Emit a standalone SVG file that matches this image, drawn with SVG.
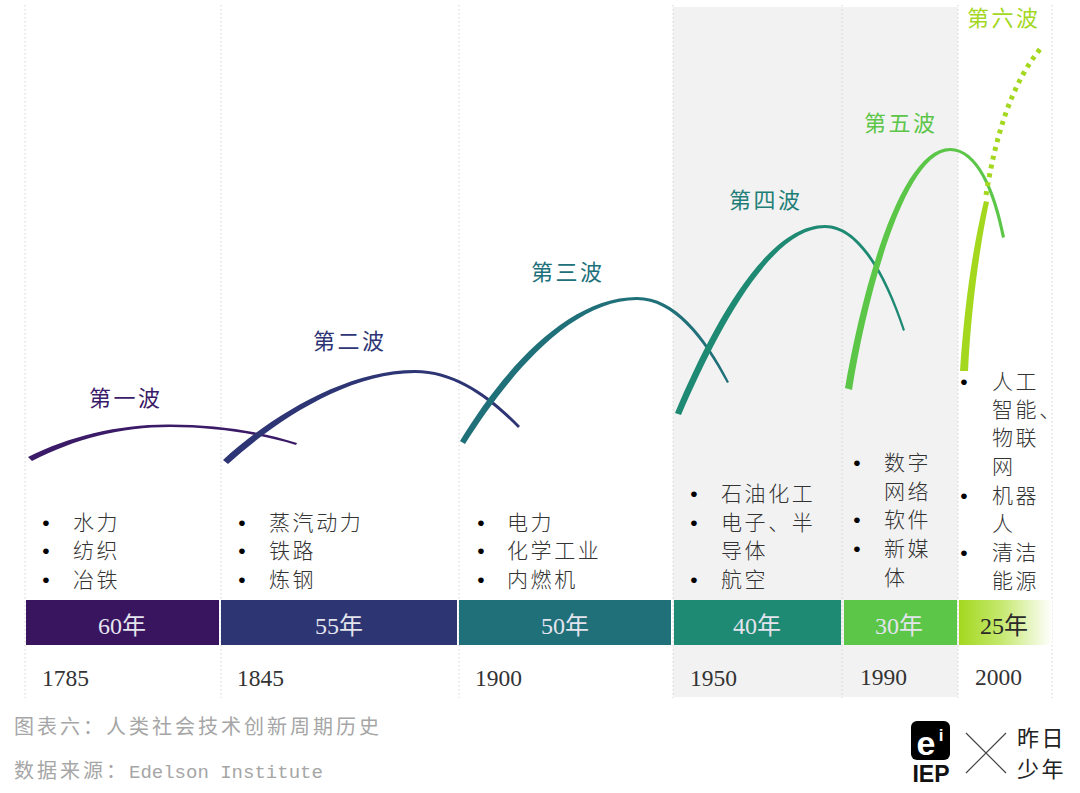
<svg xmlns="http://www.w3.org/2000/svg" width="1080" height="793" viewBox="0 0 1080 793">
<style>
text{font-family:"Liberation Serif","Noto Sans CJK SC",serif}
.g{stroke:#d4d4d4;stroke-width:1;stroke-dasharray:1.5 2.5;fill:none}
.t{font-size:21px;letter-spacing:2.6px;fill:#333;font-weight:300}
.b{font-family:"Liberation Sans",sans-serif;font-size:21px;fill:#000;text-anchor:middle}
.y{font-size:23.5px;fill:#333}
.d{font-size:24px;fill:#e4e4ee;text-anchor:middle}
.w{font-size:22px;letter-spacing:2.5px}
.c{font-size:20px;letter-spacing:3px;fill:#a6a6a6}
</style>
<defs>
<linearGradient id="g6" x1="0" x2="1" y1="0" y2="0"><stop offset="0" stop-color="#a3d81f"/><stop offset="0.45" stop-color="#c5e86e"/><stop offset="1" stop-color="#fff"/></linearGradient>
</defs>
<rect id="shade" x="673" y="7" width="285" height="690" fill="#f2f2f2"/>
<g id="gridlines">
<path class="g" d="M25 5V698M221 5V698M459 5V698M673 5V698M842 5V698M958 5V698M1052 5V698"/>
</g>
<g id="connectors">
<path fill="#3b1a68" d="M28,457 C70,436 120,424 170,424.5 C215,424.5 260,431 297,443 L296,445 C260,434 215,427 170,427 C120,427 75,439 32,461 Z"/>
<path fill="#2e3575" d="M223,460 C270,417 345,370 415,370 C455,370 490,395 520,426 L518,428 C488,398 455,373 415,373 C348,373 275,421 228,464 Z"/>
<path fill="#20707a" d="M460,441 C500,375 565,297 637,297 C675,297 705,335 729,382 L727,383 C703,338 673,300 637,300 C570,300 506,379 465,444 Z"/>
<path fill="#1f8a73" d="M675,413 C710,330 765,225 825,225 C860,225 887,275 905,330 L903,331 C885,277 858,228 825,228 C770,228 716,334 681,415 Z"/>
<path fill="#5cc648" d="M845,388 C862,290 900,148 950,148 C978,148 996,190 1005,237 L1002,238 C993,192 976,151 950,151 C905,152 867,295 852,390 Z"/>
<path fill="#a3d81f" d="M960,371 C964,310 972,250 984,201 L989,202 C979,250 971,310 968,371 Z"/>
<path fill="none" stroke="#a3d81f" stroke-width="5" stroke-dasharray="4 5" d="M986,195 C995,140 1010,85 1041,48"/>
</g>
<g id="wave1"><text class="w" x="89" y="406" fill="#3b1a68">第一波</text>
<text class="b" x="46" y="530">•</text><text class="t" x="73" y="530">水力</text>
<text class="b" x="46" y="558">•</text><text class="t" x="73" y="558">纺织</text>
<text class="b" x="46" y="587">•</text><text class="t" x="73" y="587">冶铁</text>
<rect x="26" y="600" width="193" height="45" fill="#39155f"/><text class="d" x="122" y="634">60年</text>
<text class="y" x="42" y="686">1785</text></g>
<g id="wave2"><text class="w" x="313" y="349" fill="#2e3575">第二波</text>
<text class="b" x="242" y="530">•</text><text class="t" x="269" y="530">蒸汽动力</text>
<text class="b" x="242" y="558">•</text><text class="t" x="269" y="558">铁路</text>
<text class="b" x="242" y="587">•</text><text class="t" x="269" y="587">炼钢</text>
<rect x="221" y="600" width="236" height="45" fill="#2e3573"/><text class="d" x="339" y="634">55年</text>
<text class="y" x="237" y="686">1845</text></g>
<g id="wave3"><text class="w" x="531" y="280" fill="#20707a">第三波</text>
<text class="b" x="481" y="530">•</text><text class="t" x="507" y="530">电力</text>
<text class="b" x="481" y="558">•</text><text class="t" x="507" y="558">化学工业</text>
<text class="b" x="481" y="587">•</text><text class="t" x="507" y="587">内燃机</text>
<rect x="459" y="600" width="212" height="45" fill="#20707a"/><text class="d" x="565" y="634">50年</text>
<text class="y" x="475" y="686">1900</text></g>
<g id="wave4"><text class="w" x="729" y="208" fill="#1f7f78">第四波</text>
<text class="b" x="694" y="501">•</text><text class="t" x="721" y="501">石油化工</text>
<text class="b" x="694" y="530">•</text><text class="t" x="721" y="530">电子、半</text>
<text class="t" x="721" y="558">导体</text>
<text class="b" x="694" y="587">•</text><text class="t" x="721" y="587">航空</text>
<rect x="674" y="600" width="167" height="45" fill="#1f8a73"/><text class="d" x="757" y="634">40年</text>
<text class="y" x="690" y="686">1950</text></g>
<g id="wave5"><text class="w" x="864" y="131" fill="#5cc648">第五波</text>
<text class="b" x="857" y="470">•</text><text class="t" x="884" y="470">数字</text>
<text class="t" x="884" y="499">网络</text>
<text class="b" x="857" y="527">•</text><text class="t" x="884" y="527">软件</text>
<text class="b" x="857" y="556">•</text><text class="t" x="884" y="556">新媒</text>
<text class="t" x="884" y="585">体</text>
<rect x="844" y="600" width="113" height="45" fill="#5cc648"/><text class="d" x="899" y="634">30年</text>
<text class="y" x="860" y="685">1990</text></g>
<g id="wave6"><text class="w" x="967" y="26" fill="#a3d81f">第六波</text>
<text class="b" x="964" y="389">•</text><text class="t" x="992" y="389">人工</text>
<text class="t" x="992" y="417">智能、</text>
<text class="t" x="992" y="445">物联</text>
<text class="t" x="992" y="474">网</text>
<text class="b" x="964" y="503">•</text><text class="t" x="992" y="503">机器</text>
<text class="t" x="992" y="531">人</text>
<text class="b" x="964" y="560">•</text><text class="t" x="992" y="560">清洁</text>
<text class="t" x="992" y="588">能源</text>
<rect x="959" y="600" width="93" height="45" fill="url(#g6)"/><text class="d" x="1004" y="634" style="fill:#2a2a2a">25年</text>
<text class="y" x="975" y="685">2000</text></g>
<g id="caption">
<text class="c" x="14" y="734">图表六：人类社会技术创新周期历史</text>
<text class="c" x="14" y="778">数据来源：<tspan font-family="Liberation Mono" font-size="19" letter-spacing="0">Edelson Institute</tspan></text>
</g>
<g id="logo">
<rect x="911" y="721" width="39" height="39" rx="6" fill="#000"/>
<text x="926" y="755" text-anchor="middle" style="font-family:'Liberation Sans',sans-serif;font-weight:700;font-size:34px;fill:#fff">e</text>
<text x="941" y="741" text-anchor="middle" style="font-family:'Liberation Sans',sans-serif;font-weight:700;font-size:17px;fill:#fff">i</text>
<text x="931" y="782" text-anchor="middle" style="font-family:'Liberation Sans',sans-serif;font-weight:700;font-size:23px;fill:#111">IEP</text>
<path d="M966,733 L1006,773 M1006,733 L966,773" stroke="#444" stroke-width="1.2" fill="none"/>
<text x="1017" y="746" style="font-size:22px;letter-spacing:2.5px;fill:#222">昨日</text>
<text x="1017" y="777" style="font-size:22px;letter-spacing:2.5px;fill:#222">少年</text>
</g>
</svg>
